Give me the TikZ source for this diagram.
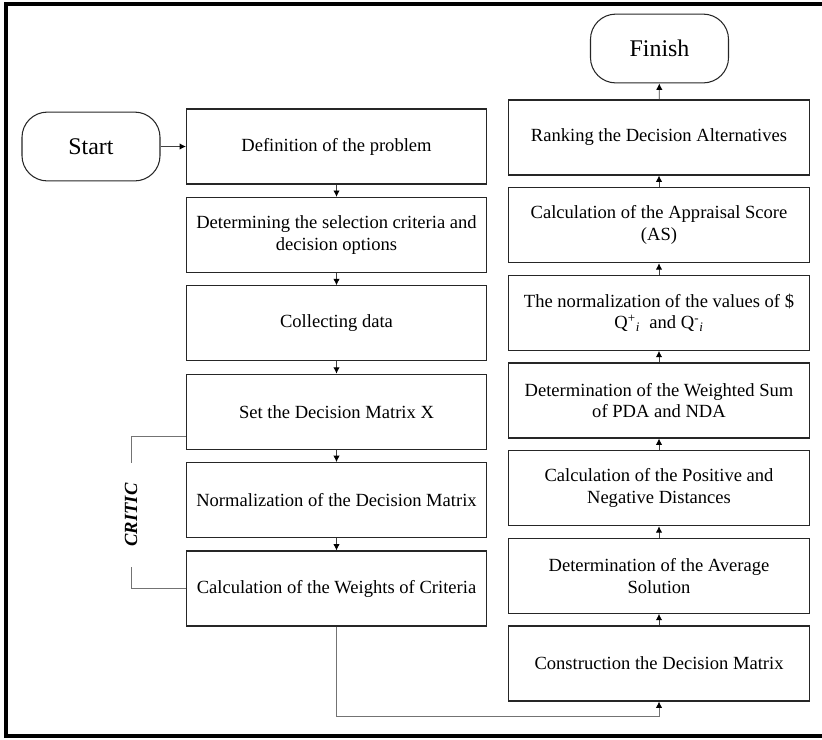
\documentclass[tikz,border=0pt]{standalone}
\usepackage{fontspec}
\setmainfont{Liberation Serif}
\usetikzlibrary{arrows.meta}

\tikzset{
  box/.style={rectangle, draw=black!85, line width=0.75pt, minimum width=7.5cm, minimum height=1.875cm, inner sep=2pt, align=center, font=\fontsize{13.2}{15.5}\selectfont},
  term/.style={rectangle, rounded corners=18pt, draw=black!85, line width=0.75pt, minimum width=3.45cm, minimum height=1.72cm, font=\fontsize{17}{20}\selectfont},
  flow/.style={-{Latex[length=4.5pt,width=4.5pt,color=black]}, black!75, line width=0.6pt},
  link/.style={black!55, line width=0.6pt},
}

\begin{document}
\begin{tikzpicture}[x=0.025cm, y=-0.025cm]
       \useasboundingbox (0,0) rectangle (822,739);
       \draw[line width=2.2pt] (822,4) -- (6,4) -- (6,736) -- (822,736);

       % left column
       \node[term] (start) at (91,146.5) {Start};
       \node[box] (l1) at (336.5,146.5) {Definition of the problem};
       \node[box] (l2) at (336.5,234.9) {Determining the selection criteria and\\ decision options};
       \node[box] (l3) at (336.5,323.3) {Collecting data};
       \node[box] (l4) at (336.5,411.7) {Set the Decision Matrix X};
       \node[box] (l5) at (336.5,500.1) {Normalization of the Decision Matrix};
       \node[box] (l6) at (336.5,588.5) {Calculation of the Weights of Criteria};
       \node[rotate=90, minimum width=2.6cm, inner sep=0pt, font=\fontsize{13.2}{15.5}\selectfont\bfseries\itshape] (critic) at (131,515) {CRITIC};

       % right column
       \node[term] (finish) at (659.5,48.5) {Finish};
       \node[box] (r1) at (659,137.5) {Ranking the Decision Alternatives};
       \node[box] (r2) at (659,225.2) {Calculation of the Appraisal Score\\ (AS)};
       \node[box] (r3) at (659,312.8) {The normalization of the values of \$\\ Q\textsuperscript{+}\textsubscript{\textit{i}}~ and Q\textsuperscript{-}\textsubscript{\textit{i}}};
       \node[box] (r4) at (659,400.5) {Determination of the Weighted Sum\\ of PDA and NDA};
       \node[box] (r5) at (659,488.2) {Calculation of the Positive and\\ Negative Distances};
       \node[box] (r6) at (659,575.8) {Determination of the Average\\ Solution};
       \node[box] (r7) at (659,663.5) {Construction the Decision Matrix};

       \draw[flow] (start) -- (l1);
       \draw[flow] (l1) -- (l2);
       \draw[flow] (l2) -- (l3);
       \draw[flow] (l3) -- (l4);
       \draw[flow] (l4) -- (l5);
       \draw[flow] (l5) -- (l6);

       \draw[flow] (r7) -- (r6);
       \draw[flow] (r6) -- (r5);
       \draw[flow] (r5) -- (r4);
       \draw[flow] (r4) -- (r3);
       \draw[flow] (r3) -- (r2);
       \draw[flow] (r2) -- (r1);
       \draw[flow] (r1) -- (finish);

       \draw[link] ([yshift=-0.63cm]l4.west) -| (critic.east);
       \draw[link] (critic.west) |- (l6.west);
       \draw[flow, black!55] (l6.south) -- ++(0,90) -| (r7.south);
\end{tikzpicture}
\end{document}
